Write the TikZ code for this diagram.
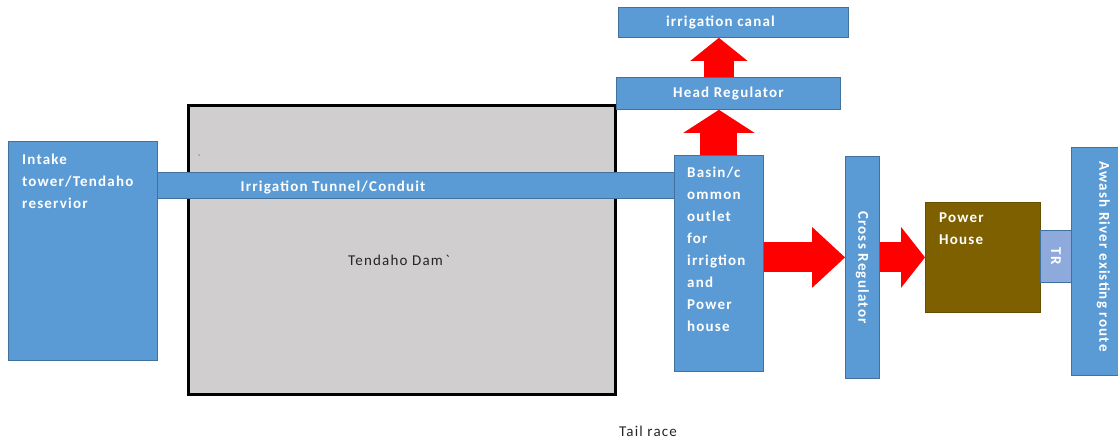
\documentclass[tikz,border=0pt]{standalone}
\usepackage{fontspec}
\setmainfont{Carlito}[LetterSpace=8]
\usetikzlibrary{arrows.meta, positioning}
\definecolor{boxblue}{HTML}{5B9BD5}
\definecolor{boxline}{HTML}{41719C}
\definecolor{damgray}{HTML}{D0CECE}
\definecolor{housebrown}{HTML}{7F6000}
\definecolor{trblue}{HTML}{8EA9DB}

\begin{document}
\begin{tikzpicture}[x=1pt, y=-1pt,
            block/.style = {rectangle, fill=boxblue, draw=boxline, line width=0.8pt, inner sep=0pt, anchor=north west, text=white, font=\bfseries\fontsize{15}{22}\selectfont},
            intxt/.style = {text=white, font=\bfseries\fontsize{15}{22}\selectfont, align=left, inner sep=0pt},
            graytxt/.style = {text=black!85, font=\fontsize{15}{18}\selectfont},
            redarrow/.style = {red, line width=30pt, -{Triangle[width=61pt, length=33pt, line width=0pt]}}]
            \path[fill=white, use as bounding box] (0,0) rectangle (1118,440);
            % nodes
            \node [draw=black, line width=3pt, fill=damgray, anchor=north west, minimum width=427, minimum height=289] (dam) at (187,104) {};
            \node [block, minimum width=149, minimum height=219, label={[intxt, anchor=north west, xshift=14, yshift=-13]north west:{Intake\\tower/Tendaho\\reservior}}] (intake) at (8,141) {};
            \node [block, minimum width=89, minimum height=216, label={[intxt, anchor=north west, xshift=13, yshift=-12]north west:{Basin/c\\ommon\\outlet\\for\\irrigtion\\and\\Power\\house}}] (basin) at (674,155) {};
            \node [block, minimum width=224, minimum height=32] (headreg) at (616,77) {Head Regulator};
            \node [block, minimum width=230, minimum height=30] (canal) at (618,7) {irrigation canal\hspace*{26pt}};
            \node [block, minimum width=34, minimum height=222] (cross) at (845,156) {\rotatebox{-90}{Cross Regulator}};
            \node [block, fill=housebrown, draw=housebrown!80!black, minimum width=115, minimum height=110, label={[intxt, anchor=north west, xshift=14, yshift=-11]north west:{Power\\House}}] (power) at (925,202) {};
            \node [block, fill=trblue, draw=boxline, minimum width=31, minimum height=52] (tr) at (1040,230) {\rotatebox{-90}{TR}};
            \node [block, minimum width=64, minimum height=228] (awash) at (1071,147) {\rotatebox{-90}{Awash River existing route\hspace*{10pt}}};
            % Connections
            \draw [block] (intake.east |- 0,172) rectangle (basin.west |- 0,198);
            \draw [redarrow, line width=37pt, -{Triangle[width=71pt, length=23pt, line width=0pt]}] (basin.north) -- (headreg.south -| basin.north);
            \draw [redarrow, -{Triangle[width=57pt, length=23pt, line width=0pt]}] (headreg.north -| basin.north) -- (canal.south -| basin.north);
            \draw [redarrow] (basin.east |- power.west) -- (cross.west |- power.west);
            \draw [redarrow, -{Triangle[width=61pt, length=24pt, line width=0pt]}] (cross.east |- power.west) -- (power.west);
            % Text
            \node [intxt] (tunneltxt) at (333,187) {Irrigation Tunnel/Conduit};
            \node [graytxt] (damtxt) at ([xshift=-3,yshift=-10]dam.center) {Tendaho Dam\,\textasciigrave};
            \node [graytxt, font=\fontsize{8}{8}\selectfont] (mark) at (199,158) {\textasciigrave};
            \node [graytxt] (tailtxt) at (648,431) {Tail race};
\end{tikzpicture}
\end{document}
